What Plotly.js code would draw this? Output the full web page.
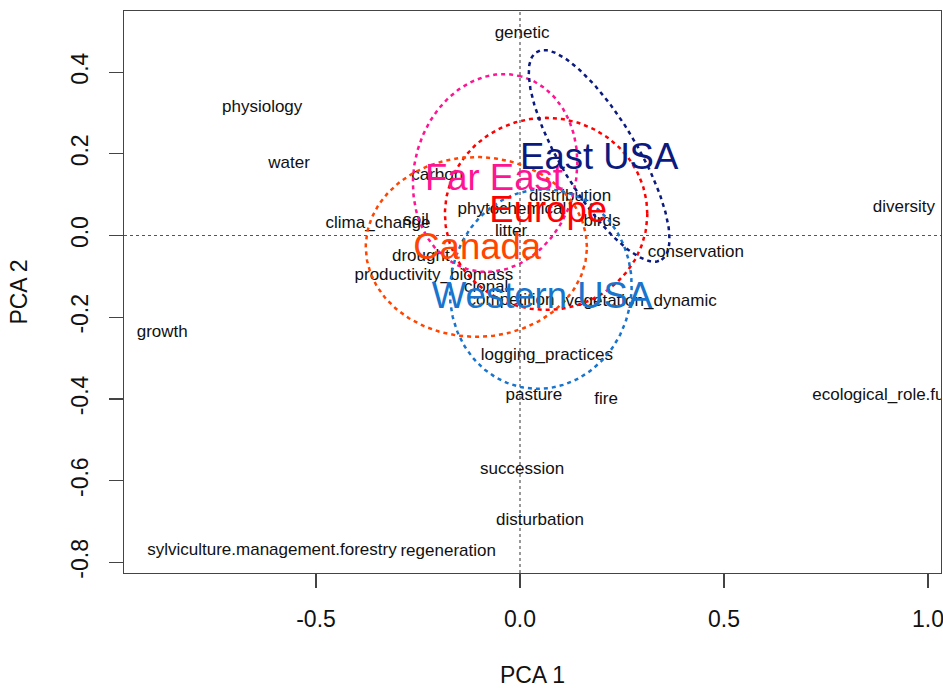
<!DOCTYPE html>
<html>
<head>
<meta charset="utf-8">
<script src="https://cdn.plot.ly/plotly-3.0.1.min.js"></script>
<style>html,body{margin:0;padding:0;background:#fff;}#chart{width:943px;height:688px;}</style>
</head>
<body>
<div id="chart"></div>
<script>
// Variable loadings (PCA 1, PCA 2)
const varNames = ["genetic","physiology","water","carbon","distribution","phytochemical","birds","diversity",
  "clima_change","soil","litter","conservation","drought","productivity_biomass","clonal","competition",
  "vegetation_dynamic","growth","logging_practices","pasture","fire","ecological_role.function",
  "succession","disturbation","sylviculture.management.forestry","regeneration"];
const varPC1 = [0.005,-0.632,-0.566,-0.203,0.123,-0.020,0.201,0.941,
  -0.348,-0.255,-0.022,0.431,-0.243,-0.211,-0.083,-0.022,
  0.297,-0.877,0.066,0.034,0.211,0.934,
  0.005,0.049,-0.608,-0.176];
const varPC2 = [0.493,0.312,0.175,0.146,0.094,0.062,0.033,0.067,
  0.028,0.035,0.008,-0.043,-0.053,-0.099,-0.129,-0.160,
  -0.163,-0.239,-0.295,-0.393,-0.403,-0.393,
  -0.574,-0.699,-0.772,-0.775];

// Region groups: label position and ellipse parameters
const groupNames  = ["Far East","Europe","Canada","Western USA","East USA"];
const groupColors = ["#FF1493","#FF0000","#FF4500","#1874CD","#0B1A7E"];
const labelPC1    = [-0.064, 0.069, -0.105, 0.054, 0.194];
const labelPC2    = [0.133, 0.055, -0.035, -0.156, 0.184];
const ellCenterX  = [-0.061, 0.064, -0.107, 0.051, 0.194];
const ellCenterY  = [0.153, 0.053, -0.028, -0.131, 0.195];
const ellSemiA    = [0.245, 0.248, 0.271, 0.245, 0.297];
const ellSemiB    = [0.198, 0.235, 0.220, 0.222, 0.093];
const ellAngleDeg = [75, 0, 0, 80, -59];

const xTickVals = [-0.5, 0, 0.5, 1.0];
const xTickText = ["-0.5","0.0","0.5","1.0"];
const yTickVals = [-0.8,-0.6,-0.4,-0.2,0,0.2,0.4];
const yTickText = ["-0.8","-0.6","-0.4","-0.2","0.0","0.2","0.4"];

const FONT = "Liberation Sans, Arial, sans-serif";
const traces = [];

traces.push({
  type: "scatter", mode: "text", x: varPC1, y: varPC2, text: varNames,
  textposition: "middle center",
  textfont: {family: FONT, size: 17, color: "#111"},
  hoverinfo: "skip", showlegend: false, cliponaxis: true
});

for (let g = 0; g < groupNames.length; g++) {
  const ex = [], ey = [];
  const th = ellAngleDeg[g] * Math.PI / 180;
  const n = 200;
  for (let i = 0; i <= n; i++) {
    const t = 2 * Math.PI * i / n;
    const u = ellSemiA[g] * Math.cos(t), v = ellSemiB[g] * Math.sin(t);
    ex.push(ellCenterX[g] + u * Math.cos(th) - v * Math.sin(th));
    ey.push(ellCenterY[g] + u * Math.sin(th) + v * Math.cos(th));
  }
  traces.push({
    type: "scatter", mode: "lines", x: ex, y: ey,
    line: {color: groupColors[g], width: 2.5, dash: "4px,4px"},
    hoverinfo: "skip", showlegend: false
  });
}

traces.push({
  type: "scatter", mode: "text", x: labelPC1, y: labelPC2, text: groupNames,
  textposition: "middle center",
  textfont: {family: FONT, size: 36.5, color: groupColors},
  hoverinfo: "skip", showlegend: false, cliponaxis: true
});

const layout = {
  width: 943, height: 688,
  margin: {l: 124, r: 2, t: 11, b: 115, pad: 0},
  paper_bgcolor: "#fff", plot_bgcolor: "#fff",
  font: {family: FONT, color: "#111"},
  showlegend: false,
  xaxis: {
    range: [-0.9706, 1.0319], showgrid: false, zeroline: false,
    showline: true, mirror: true, linecolor: "#444", linewidth: 1.2,
    ticks: "outside", ticklen: 14, tickcolor: "#444", tickwidth: 1.2,
    tickvals: xTickVals, ticktext: xTickText, ticklabeloverflow: "allow",
    tickfont: {family: FONT, size: 23, color: "#111"}, ticklabelstandoff: 11,
    title: {text: "PCA 1", font: {family: FONT, size: 23, color: "#111"}, standoff: 41}
  },
  yaxis: {
    range: [-0.8262, 0.5496], showgrid: false, zeroline: false,
    showline: true, mirror: true, linecolor: "#444", linewidth: 1.2,
    ticks: "outside", ticklen: 14, tickcolor: "#444", tickwidth: 1.2,
    tickvals: yTickVals, ticktext: yTickText, tickangle: -90, ticklabeloverflow: "allow",
    tickfont: {family: FONT, size: 23, color: "#111"}, ticklabelstandoff: 12,
    title: {text: "PCA 2", font: {family: FONT, size: 23, color: "#111"}, standoff: 32}
  },
  shapes: [
    {type: "line", xref: "x", yref: "paper", x0: 0, x1: 0, y0: 0, y1: 1,
     line: {color: "#555", width: 1.2, dash: "dot"}, layer: "below"},
    {type: "line", xref: "paper", yref: "y", x0: 0, x1: 1, y0: 0, y1: 0,
     line: {color: "#555", width: 1.2, dash: "dot"}, layer: "below"}
  ]
};

Plotly.newPlot("chart", traces, layout, {displayModeBar: false, staticPlot: true});
</script>
</body>
</html>
